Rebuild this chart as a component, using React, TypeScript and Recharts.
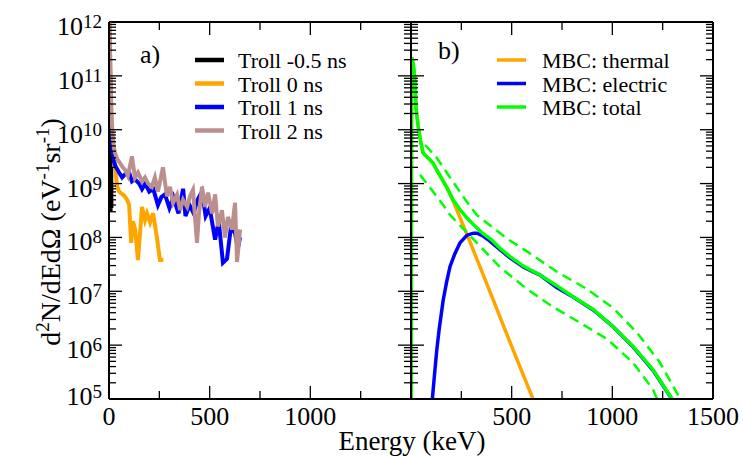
import { Line, LineChart, ReferenceLine, XAxis, YAxis } from 'recharts';

const FONT = '"Liberation Serif", "Times New Roman", "DejaVu Serif", serif';

// panel a) : measured spectra, [energy keV, d2N/dEdΩ]
const trollM05: [number, number][] = [
  [3, 1.0e10], [4, 6e8], [5, 5e9], [6, 4e8], [7, 3e9], [8, 3e8], [9, 1.5e9], [10, 5e8], [11, 2e9], [12, 3.5e8],
];
const troll0: [number, number][] = [
  [2, 1e12], [6, 1.6e11], [10, 3.2e10], [15, 1e10], [22, 4.0e9], [30, 2.2e9], [40, 8.9e8], [50, 7.1e8],
  [60, 6.6e8], [75, 6.0e8], [90, 5.0e8], [100, 4.0e8], [110, 7.9e7], [119, 2.0e8], [130, 1.4e8], [144, 3.8e7],
  [164, 3.7e8], [179, 2.1e8], [189, 2.8e8], [204, 1.9e8], [219, 2.8e8], [238, 1.0e8], [253, 3.8e7], [270, 3.8e7],
];
const troll1: [number, number][] = [
  [2, 3.2e11], [5, 6.3e10], [8, 2.0e10], [12, 7.9e9], [18, 4.0e9], [25, 2.5e9], [35, 2.0e9], [50, 1.6e9],
  [65, 1.3e9], [80, 1.5e9], [100, 1.6e9], [114, 1.1e9], [129, 1.2e9], [150, 1.0e9], [164, 7.9e8], [180, 1.0e9],
  [200, 7.1e8], [220, 7.9e8], [243, 4.0e8], [260, 5.6e8], [278, 6.3e8], [300, 3.5e8], [320, 5.6e8], [345, 2.8e8],
  [368, 8.0e8], [380, 2.5e8], [400, 4.0e8], [420, 2.8e8], [440, 5.0e8], [462, 7.1e8], [480, 2.5e8], [500, 3.5e8],
  [527, 9.1e7], [545, 2.0e8], [566, 3.4e7], [586, 4.0e7], [606, 1.6e8], [626, 1.2e8], [640, 6.3e7], [651, 1.0e8],
];
const troll2: [number, number][] = [
  [2, 1e12], [5, 3.2e11], [8, 1e11], [12, 2.0e10], [18, 7.9e9], [25, 4.5e9], [30, 3.7e9], [42, 2.8e9],
  [55, 2.4e9], [68, 2.0e9], [80, 1.8e9], [94, 1.4e9], [114, 3.2e9], [129, 1.3e9], [144, 1.6e9], [164, 1.1e9],
  [179, 1.3e9], [194, 1.0e9], [213, 8.7e8], [228, 1.3e9], [243, 7.1e8], [268, 2.0e9], [288, 5.8e8], [303, 8.7e8],
  [318, 4.4e8], [338, 6.2e8], [353, 3.2e8], [368, 5.0e8], [388, 3.7e8], [402, 5.8e8], [417, 7.6e8], [437, 7.9e7],
  [447, 2.8e8], [462, 8.7e8], [477, 3.7e8], [492, 6.8e8], [512, 2.8e8], [527, 6.3e8], [541, 1.6e8], [561, 3.2e8],
  [576, 1.0e8], [591, 2.4e8], [611, 1.4e8], [626, 4.4e8], [636, 3.5e7], [651, 1.4e8],
];

// panel b) : model curves
const mbcThermal: [number, number][] = [
  [0, 1e3], [3, 2.2e11], [12, 1.6e11], [20, 7.8e10], [25, 2.5e10], [35, 1.2e10], [48, 6.0e9], [60, 3.7e9],
  [85, 3.0e9], [109, 2.4e9], [144, 1.4e9], [179, 8.3e8], [209, 4.8e8], [300, 7.1e7], [400, 8.3e6], [500, 9.5e5],
  [606, 1.0e5], [650, 3.9e4],
];
const mbcElectric: [number, number][] = [
  [100, 1e4], [106, 1e5], [118, 3.2e5], [128, 8.1e5], [140, 2.0e6], [160, 6.9e6], [177, 1.5e7], [194, 2.9e7],
  [218, 5.0e7], [243, 7.9e7], [278, 1.1e8], [310, 1.2e8], [328, 1.2e8], [360, 1.05e8], [392, 8.5e7], [442, 5.9e7],
  [492, 4.2e7], [560, 2.8e7], [641, 2.0e7], [720, 1.2e7], [805, 7.8e6], [905, 4.5e6], [1004, 2.2e6], [1103, 9.3e5],
  [1202, 3.4e5], [1297, 9.8e4], [1330, 6.9e4],
];
const mbcTotal: [number, number][] = [
  [0, 1e3], [3, 2.2e11], [12, 1.6e11], [20, 7.8e10], [25, 2.5e10], [35, 1.2e10], [48, 6.0e9], [60, 3.7e9],
  [85, 3.0e9], [109, 2.4e9], [144, 1.4e9], [179, 8.3e8], [209, 5.0e8], [243, 3.3e8], [278, 2.3e8], [320, 1.6e8],
  [358, 1.17e8], [400, 9.0e7], [442, 6.3e7], [492, 4.4e7], [560, 2.9e7], [641, 2.0e7], [720, 1.3e7], [805, 7.9e6],
  [905, 4.6e6], [1004, 2.2e6], [1103, 9.5e5], [1202, 3.5e5], [1297, 1.0e5], [1330, 7.0e4],
];
const mbcTotalHigh: [number, number][] = [
  [70, 5.2e9], [128, 3.0e9], [194, 1.3e9], [277, 4.6e8], [327, 2.6e8], [400, 1.6e8], [480, 9.3e7], [576, 5.5e7],
  [725, 2.3e7], [874, 1.1e7], [1004, 4.9e6], [1123, 1.7e6], [1237, 4.7e5], [1337, 1.0e5], [1360, 7e4],
];
const mbcTotalLow: [number, number][] = [
  [45, 1.45e9], [109, 7.1e8], [160, 4.0e8], [194, 2.6e8], [328, 7.9e7], [442, 2.8e7], [576, 1.1e7], [706, 5.1e6],
  [840, 2.6e6], [974, 1.3e6], [1103, 4.7e5], [1202, 1.5e5], [1222, 1.0e5], [1240, 7e4],
];

const energyTicks = [0, 250, 500, 750, 1000, 1250, 1500];
const leftLabels = [0, 500, 1000];
const rightLabels = [500, 1000, 1500];
const decades = [5, 6, 7, 8, 9, 10, 11];

const yTicks: number[] = [];
decades.forEach((d) => {
  for (let k = 1; k <= 9; k++) yTicks.push(k * Math.pow(10, d));
});
yTicks.push(1e12);

const rows = (pts: [number, number][]) => pts.map(([e, v]) => ({ e, v }));

const leftSeries = [
  { name: 'Troll -0.5 ns', color: '#000000', pts: trollM05 },
  { name: 'Troll 0 ns', color: '#ffa500', pts: troll0 },
  { name: 'Troll 1 ns', color: '#0000ff', pts: troll1 },
  { name: 'Troll 2 ns', color: '#bc8f8f', pts: troll2 },
];
const rightSeries = [
  { name: 'MBC: thermal', color: '#ffa500', pts: mbcThermal },
  { name: 'MBC: electric', color: '#0000ff', pts: mbcElectric },
  { name: 'MBC: total', color: '#00ff00', pts: mbcTotal },
];

// layout (page pixels)
const TOP = 22;
const BOTTOM = 399;
const H = 457;
const txt = { fontFamily: FONT };

function makeYTick(x0: number, x1: number, labels: boolean) {
  return (props: any) => {
    const { y, payload } = props;
    const lg = Math.log10(payload.value);
    const exp = Math.round(lg);
    const major = Math.abs(lg - exp) < 1e-6;
    const len = major ? 13 : 7;
    const base = exp === 5 ? y + 6 : y + 13;
    return (
      <g>
        <line x1={x0} x2={x0 + len} y1={y} y2={y} stroke="#000" strokeWidth={1.3} />
        <line x1={x1} x2={x1 - len} y1={y} y2={y} stroke="#000" strokeWidth={1.3} />
        {labels && major && (
          <text x={102} y={base} textAnchor="end" style={txt} fontSize={26} fill="#000">
            10
            <tspan dy={-7} fontSize={19}>{exp}</tspan>
          </text>
        )}
      </g>
    );
  };
}

function makeXTick(labels: number[]) {
  return (props: any) => {
    const { x, payload } = props;
    const v = payload.value;
    const len = v % 500 === 0 ? 13 : 8;
    return (
      <g>
        <line x1={x} x2={x} y1={BOTTOM} y2={BOTTOM - len} stroke="#000" strokeWidth={1.3} />
        <line x1={x} x2={x} y1={TOP} y2={TOP + len} stroke="#000" strokeWidth={1.3} />
        {labels.includes(v) && (
          <text x={x} y={425} textAnchor="middle" style={txt} fontSize={26} fill="#000">
            {v}
          </text>
        )}
      </g>
    );
  };
}

const axisStroke = { stroke: '#000', strokeWidth: 2 };

export default function App() {
  return (
    <div style={{ position: 'absolute', left: 0, top: 0, width: 743, height: H, background: '#fff', fontFamily: FONT }}>
      <div style={{ position: 'absolute', left: 0, top: 0 }}>
        <LineChart width={420} height={H} margin={{ top: TOP, right: 9, bottom: 0, left: 0 }}>
          <XAxis
            type="number"
            dataKey="e"
            domain={[0, 1500]}
            ticks={energyTicks}
            interval={0}
            allowDataOverflow
            height={58}
            tickSize={0}
            tickMargin={0}
            tickLine={false}
            axisLine={axisStroke}
            tick={makeXTick(leftLabels)}
          />
          <YAxis
            type="number"
            scale="log"
            domain={[1e5, 1e12]}
            ticks={yTicks}
            interval={0}
            allowDataOverflow
            width={109}
            tickSize={0}
            tickMargin={0}
            tickLine={false}
            axisLine={axisStroke}
            tick={makeYTick(109, 411, true)}
          />
          <ReferenceLine y={1e12} stroke="#000" strokeWidth={2} />
          <ReferenceLine x={1500} stroke="#000" strokeWidth={2} />
          {leftSeries.map((s) => (
            <Line
              key={s.name}
              data={rows(s.pts)}
              dataKey="v"
              type="linear"
              stroke={s.color}
              strokeWidth={4}
              dot={false}
              isAnimationActive={false}
            />
          ))}
        </LineChart>
      </div>
      <div style={{ position: 'absolute', left: 400, top: 0 }}>
        <LineChart width={343} height={H} margin={{ top: TOP, right: 30, bottom: 0, left: 0 }}>
          <XAxis
            type="number"
            dataKey="e"
            domain={[0, 1500]}
            ticks={energyTicks}
            interval={0}
            allowDataOverflow
            height={58}
            tickSize={0}
            tickMargin={0}
            tickLine={false}
            axisLine={axisStroke}
            tick={makeXTick(rightLabels)}
          />
          <YAxis
            type="number"
            scale="log"
            domain={[1e5, 1e12]}
            ticks={yTicks}
            interval={0}
            allowDataOverflow
            width={11}
            tickSize={0}
            tickMargin={0}
            tickLine={false}
            axisLine={axisStroke}
            tick={makeYTick(11, 313, false)}
          />
          <ReferenceLine y={1e12} stroke="#000" strokeWidth={2} />
          <ReferenceLine x={1500} stroke="#000" strokeWidth={2} />
          {rightSeries.map((s) => (
            <Line
              key={s.name}
              data={rows(s.pts)}
              dataKey="v"
              type="linear"
              stroke={s.color}
              strokeWidth={3.5}
              dot={false}
              isAnimationActive={false}
            />
          ))}
          <Line
            data={rows(mbcTotalHigh)}
            dataKey="v"
            type="linear"
            stroke="#00ff00"
            strokeWidth={2.5}
            strokeDasharray="10 6"
            dot={false}
            isAnimationActive={false}
          />
          <Line
            data={rows(mbcTotalLow)}
            dataKey="v"
            type="linear"
            stroke="#00ff00"
            strokeWidth={2.5}
            strokeDasharray="10 6"
            dot={false}
            isAnimationActive={false}
          />
        </LineChart>
      </div>
      <svg
        width={743}
        height={H}
        style={{ position: 'absolute', left: 0, top: 0, pointerEvents: 'none', fontFamily: FONT }}
        fill="#000"
      >
        <text x={140} y={63} fontSize={26}>a)</text>
        <text x={438} y={59} fontSize={26}>b)</text>
        {leftSeries.map((s, i) => (
          <g key={s.name}>
            <line x1={195} x2={224} y1={60 + i * 23.5} y2={60 + i * 23.5} stroke={s.color} strokeWidth={4.5} />
            <text x={238} y={68 + i * 23.5} fontSize={22}>{s.name}</text>
          </g>
        ))}
        {rightSeries.map((s, i) => (
          <g key={s.name}>
            <line x1={497} x2={526} y1={60 + i * 23.5} y2={60 + i * 23.5} stroke={s.color} strokeWidth={3.5} />
            <text x={542} y={68 + i * 23.5} fontSize={22}>{s.name}</text>
          </g>
        ))}
        <text x={412} y={450} textAnchor="middle" fontSize={27}>Energy (keV)</text>
        <text transform="translate(60,232) rotate(-90)" textAnchor="middle" fontSize={28}>
          d<tspan dy={-11} fontSize={19}>2</tspan>
          <tspan dy={11}>N/dEdΩ (eV</tspan>
          <tspan dy={-11} fontSize={19}>-1</tspan>
          <tspan dy={11}>sr</tspan>
          <tspan dy={-11} fontSize={19}>-1</tspan>
          <tspan dy={11}>)</tspan>
        </text>
      </svg>
    </div>
  );
}
